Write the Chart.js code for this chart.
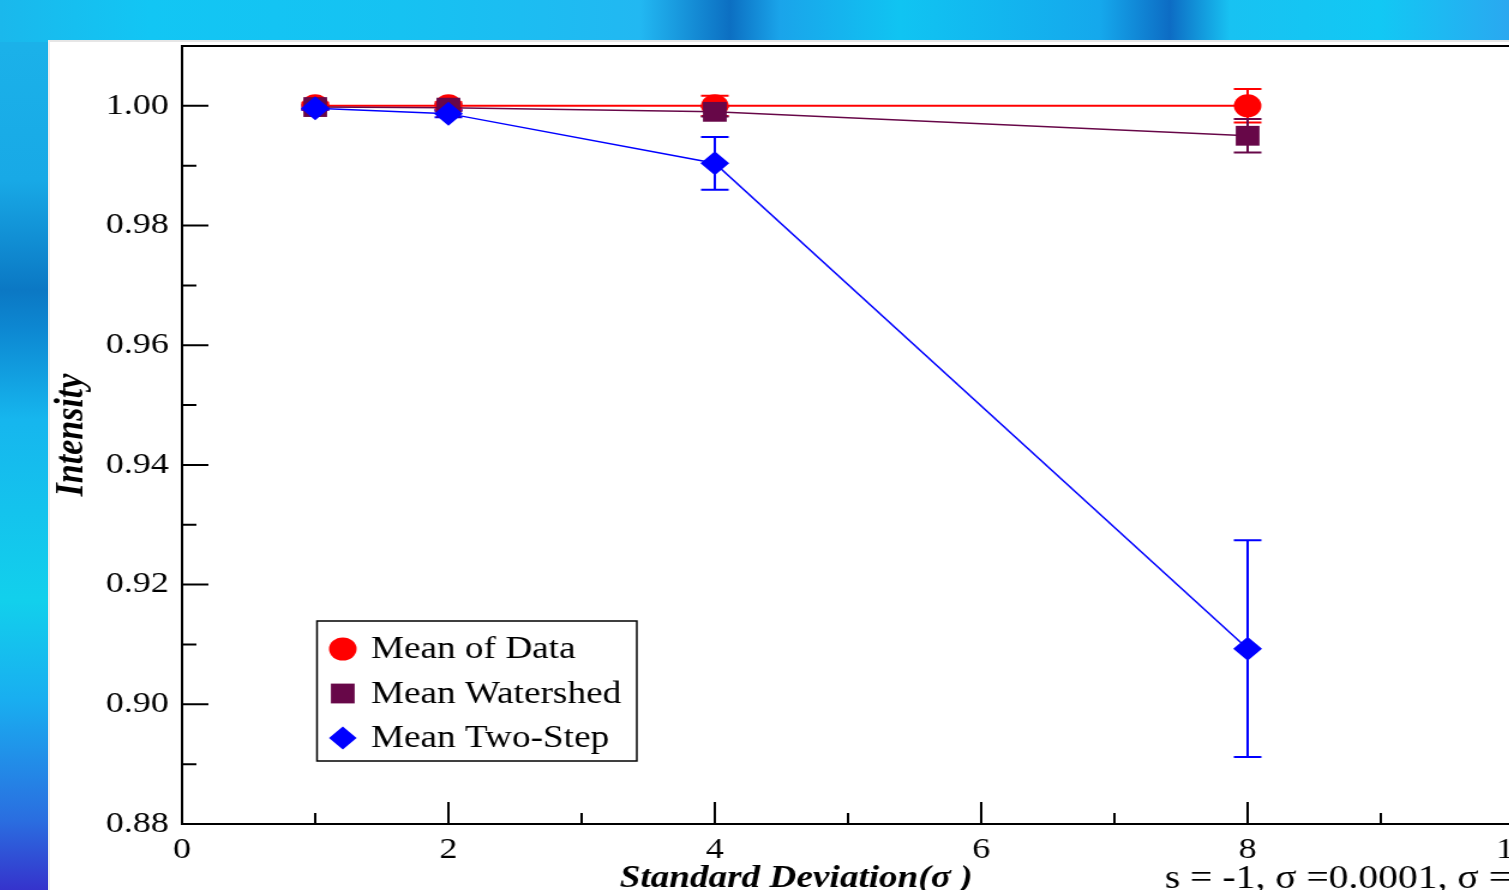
<!DOCTYPE html>
<html>
<head>
<meta charset="utf-8">
<title>Intensity vs Standard Deviation</title>
<script src="https://cdn.jsdelivr.net/npm/chart.js@4.4.1/dist/chart.umd.min.js"></script>
<style>
  html, body { margin: 0; padding: 0; width: 1509px; height: 890px; overflow: hidden; }
  body {
    position: relative;
    background: linear-gradient(to bottom, #1cb4ea 0px, #18a9e6 180px, #0b78c4 290px, #0d88d2 330px,
      #16b6ee 420px, #12d0ec 600px, #19aef0 700px, #2a6ee0 820px, #3533cc 890px);
  }
  #topband {
    position: absolute; left: 0; top: 0; width: 1509px; height: 42px;
    background: linear-gradient(to right, #1ab8ec 0px, #12c6f4 150px, #16c2f2 400px, #22b8f2 640px,
      #0c6fc2 730px, #1aa4ea 780px, #10c4f2 900px, #15a8ec 1100px, #0d6cc4 1170px, #18c2f2 1230px,
      #12c8f4 1380px, #2aa8f0 1509px);
  }
  #sheet {
    position: absolute; left: 48px; top: 40px; width: 1500px; height: 900px;
    background: #fff; border-top: 2px solid #e6e6e6; border-left: 2px solid #eeeeee;
  }
  /* the original picture is stretched sideways, so the canvas is too */
  #chart { position: absolute; left: 0; top: 0; transform: scaleX(1.2); transform-origin: 0 0; }
</style>
</head>
<body>
<div id="topband"></div>
<div id="sheet">
  <canvas id="chart" width="1240" height="860"></canvas>
</div>
<script>
// values
const xValues = [1, 2, 4, 8];
const seriesNames = ['Mean of Data', 'Mean Watershed', 'Mean Two-Step'];
const meanData = [1.0000, 1.0000, 1.0000, 1.0000];
const errData = [0.0005, 0.0006, 0.0017, 0.0028];
const meanWatershed = [0.9998, 0.9997, 0.9990, 0.9950];
const errWatershed = [0.0004, 0.0006, 0.0008, 0.0028];
const meanTwoStep = [0.9996, 0.9987, 0.9904, 0.9093];
const errTwoStep = [0.0003, 0.0006, 0.0044, 0.0181];

const xTicks = [0, 2, 4, 6, 8, 10];
const xTickLabels = ['0', '2', '4', '6', '8', '10'];
const yTicks = [0.88, 0.90, 0.92, 0.94, 0.96, 0.98, 1.00];
const yTickLabels = ['0.88', '0.90', '0.92', '0.94', '0.96', '0.98', '1.00'];
const xMinorStep = 1;
const yMinorStep = 0.01;

const xTitle = 'Standard Deviation(\u03c3 )';
const noteText = 's = -1, \u03c3 =0.0001, \u03c3 =1';

const colors = ['#ff0000', '#670748', '#0000ff'];
const styles = ['circle', 'rect', 'rectRot'];
const radii = [11.5, 14, 12];
const lineWidths = [2, 1.5, 1.5];
const allMeans = [meanData, meanWatershed, meanTwoStep];
const allErrors = [errData, errWatershed, errTwoStep];

const serif = 'Liberation Serif, Times New Roman, serif';

function drawMarker(ctx, style, r, x, y, color) {
  ctx.save();
  ctx.fillStyle = color;
  ctx.beginPath();
  if (style === 'circle') {
    ctx.arc(x, y, r, 0, Math.PI * 2);
  } else if (style === 'rect') {
    const s = r * Math.SQRT1_2;
    ctx.rect(x - s, y - s, 2 * s, 2 * s);
  } else {
    ctx.moveTo(x, y - r);
    ctx.lineTo(x + r, y);
    ctx.lineTo(x, y + r);
    ctx.lineTo(x - r, y);
    ctx.closePath();
  }
  ctx.fill();
  ctx.restore();
}

// error bars, drawn under the markers
const errorBars = {
  id: 'errorBars',
  beforeDatasetsDraw(chart) {
    const ctx = chart.ctx;
    const yScale = chart.scales.y;
    ctx.save();
    allErrors.forEach((errs, i) => {
      const meta = chart.getDatasetMeta(i);
      ctx.strokeStyle = colors[i];
      ctx.lineWidth = 2;
      meta.data.forEach((pt, j) => {
        const yTop = yScale.getPixelForValue(allMeans[i][j] + errs[j]);
        const yBot = yScale.getPixelForValue(allMeans[i][j] - errs[j]);
        const cap = 11.5;
        ctx.beginPath();
        ctx.moveTo(pt.x, yTop); ctx.lineTo(pt.x, yBot);
        ctx.moveTo(pt.x - cap, yTop); ctx.lineTo(pt.x + cap, yTop);
        ctx.moveTo(pt.x - cap, yBot); ctx.lineTo(pt.x + cap, yBot);
        ctx.stroke();
      });
    });
    ctx.restore();
  }
};

// frame with inward major and minor ticks
const frame = {
  id: 'frame',
  afterDatasetsDraw(chart) {
    const ctx = chart.ctx;
    const a = chart.chartArea;
    const xs = chart.scales.x, ys = chart.scales.y;
    ctx.save();
    ctx.strokeStyle = '#000';
    ctx.lineWidth = 2;
    ctx.strokeRect(a.left, a.top, a.right - a.left, a.bottom - a.top);
    ctx.beginPath();
    for (let v = xs.min; v <= xs.max + 1e-9; v += xMinorStep) {
      const px = xs.getPixelForValue(v);
      const len = xTicks.some(t => Math.abs(t - v) < 1e-9) ? 22 : 11;
      ctx.moveTo(px, a.bottom); ctx.lineTo(px, a.bottom - len);
    }
    for (let k = 0; ys.min + k * yMinorStep <= ys.max + 1e-9; k++) {
      const v = ys.min + k * yMinorStep;
      const py = ys.getPixelForValue(v);
      const len = yTicks.some(t => Math.abs(t - v) < 1e-9) ? 22 : 12;
      ctx.moveTo(a.left, py); ctx.lineTo(a.left + len, py);
    }
    ctx.stroke();
    ctx.restore();
  }
};

// boxed legend inside the plot
const boxLegend = {
  id: 'boxLegend',
  afterDatasetsDraw(chart) {
    const ctx = chart.ctx;
    const a = chart.chartArea;
    const left = a.left + 112.5, top = a.top + 575;
    ctx.save();
    ctx.fillStyle = '#fff';
    ctx.fillRect(left, top, 266.5, 140);
    ctx.strokeStyle = '#000';
    ctx.lineWidth = 1.5;
    ctx.strokeRect(left, top, 266.5, 140);
    ctx.font = '31px ' + serif;
    ctx.textBaseline = 'middle';
    seriesNames.forEach((name, i) => {
      const y = top + 28 + i * 44.5;
      drawMarker(ctx, styles[i], i === 1 ? 14 : 11.5, left + 21.5, y, colors[i]);
      ctx.fillStyle = '#000';
      ctx.fillText(name, left + 45, y + 1);
    });
    ctx.restore();
  }
};

// axis caption and the note beside it
const captions = {
  id: 'captions',
  afterDraw(chart) {
    const ctx = chart.ctx;
    const a = chart.chartArea;
    const y = a.bottom + 55;
    ctx.save();
    ctx.fillStyle = '#000';
    ctx.textBaseline = 'middle';
    ctx.font = 'italic bold 31px ' + serif;
    ctx.textAlign = 'center';
    ctx.fillText(xTitle, a.left + (a.right - a.left) * 0.461, y);
    ctx.font = '33px ' + serif;
    ctx.textAlign = 'left';
    ctx.fillText(noteText, a.left + 819, y);
    ctx.restore();
  }
};

const datasets = seriesNames.map((name, i) => ({
  label: name,
  data: xValues.map((x, j) => ({ x: x, y: allMeans[i][j] })),
  showLine: true,
  borderColor: colors[i],
  borderWidth: lineWidths[i],
  backgroundColor: colors[i],
  pointStyle: styles[i],
  pointRadius: radii[i],
  pointBackgroundColor: colors[i],
  pointBorderWidth: 0,
  order: 3 - i,
  clip: false
}));

new Chart(document.getElementById('chart'), {
  type: 'scatter',
  data: { datasets: datasets },
  options: {
    responsive: false,
    animation: false,
    devicePixelRatio: 1,
    layout: { autoPadding: false, padding: { top: 4, right: 20, left: 0, bottom: 0 } },
    plugins: { legend: { display: false }, tooltip: { enabled: false } },
    scales: {
      x: {
        type: 'linear', min: 0, max: 10,
        grid: { display: false, drawTicks: false },
        border: { display: false },
        afterBuildTicks: s => { s.ticks = xTicks.map(v => ({ value: v })); },
        afterFit: s => { s.height = 78; s.paddingLeft = 0; s.paddingRight = 0; },
        ticks: {
          color: '#000', padding: 8, maxRotation: 0, autoSkip: false,
          font: { family: serif, size: 30 },
          callback: (v, i) => xTickLabels[i]
        }
      },
      y: {
        type: 'linear', min: 0.88, max: 1.01,
        grid: { display: false, drawTicks: false },
        border: { display: false },
        afterBuildTicks: s => { s.ticks = yTicks.map(v => ({ value: v })); },
        afterFit: s => { s.width = 110; s.paddingTop = 0; s.paddingBottom = 0; },
        ticks: {
          color: '#000', padding: 11, autoSkip: false,
          font: { family: serif, size: 30 },
          callback: (v, i) => yTickLabels[i]
        },
        title: {
          display: true, text: 'Intensity', color: '#000', padding: 0,
          font: { family: serif, size: 34, weight: 'bold', style: 'italic', lineHeight: 1.1 }
        }
      }
    }
  },
  plugins: [errorBars, frame, boxLegend, captions]
});
</script>
</body>
</html>
